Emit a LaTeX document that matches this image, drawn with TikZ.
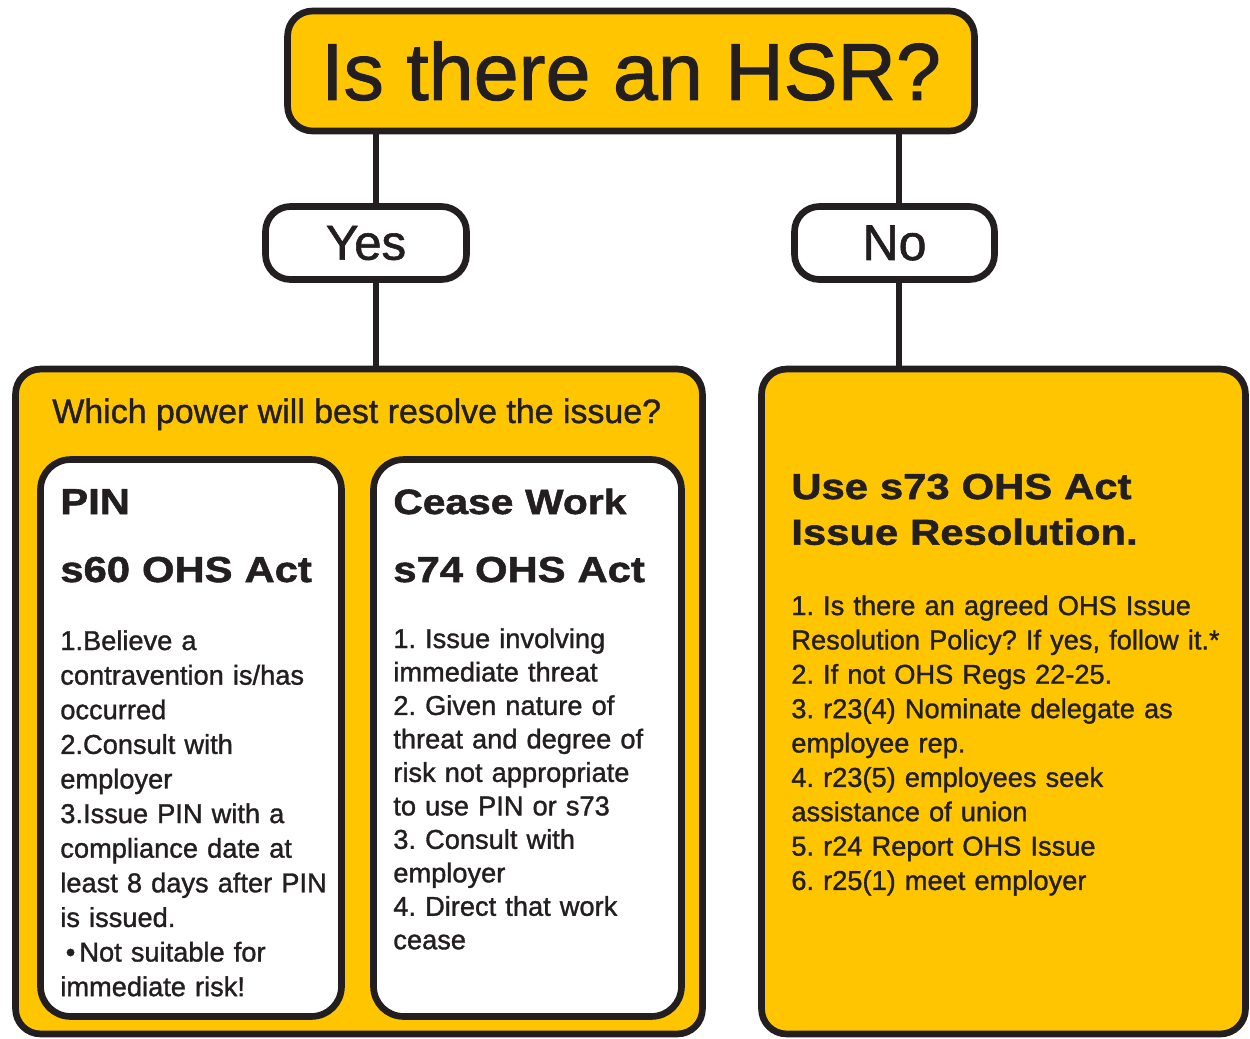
\documentclass[tikz,border=0pt]{standalone}
\usepackage{fontspec}
\setmainfont{Liberation Sans}
\newfontfamily\bodyfont{Liberation Sans}[FakeBold=1.2]
\newfontfamily\headfont{Liberation Sans Bold}[FakeStretch=1.16, FakeBold=1.5]
\usepackage{tikz}
\usetikzlibrary{positioning, calc}
\definecolor{hsryellow}{RGB}{255,198,0}
\definecolor{hsrblack}{RGB}{35,31,32}
\frenchspacing

\begin{document}
\begin{tikzpicture}[x=0.02cm, y=-0.02cm,
			box/.style={draw=hsrblack, line width=3.8pt, rounded corners=0.5cm, inner sep=0pt},
			yellowbox/.style={box, fill=hsryellow},
			whitebox/.style={box, fill=white},
			head/.style={font={\headfont\fontsize{20.5}{26}\selectfont}, text=hsrblack, anchor=base west, inner sep=0pt, text width=9cm, align=left},
			body/.style={font={\bodyfont\fontsize{15.5}{19.7}\selectfont}, text=hsrblack, anchor=base west, inner sep=0pt, text width=9cm, align=left},
			link/.style={draw=hsrblack, line width=3.8pt}]
			\useasboundingbox (0,0) rectangle (1250,1038);
			% the two big panels
			\node[yellowbox, minimum width=13.74cm, minimum height=13.3cm] (which) at (359,701.5) {};
			\node[yellowbox, minimum width=9.68cm, minimum height=13.3cm] (use73) at (1003.5,701.5) {};
			% question and answers
			\node[yellowbox, minimum width=13.74cm, minimum height=2.4cm, font={\bodyfont\fontsize{46}{50}\selectfont}, text=hsrblack] (hsr) at (631,71) {Is there an HSR?};
			\node[whitebox, minimum width=4.02cm, minimum height=1.46cm, font={\bodyfont\fontsize{28}{32}\selectfont}, text=hsrblack] (yes) at (366,243) {Yes};
			\node[whitebox, minimum width=4.0cm, minimum height=1.46cm, font={\bodyfont\fontsize{28.5}{32}\selectfont}, text=hsrblack] (no) at (894.5,243) {No};
			% connecting lines
			\coordinate (yesline) at (376,0);
			\coordinate (noline) at (899,0);
			\draw[link] (hsr.south -| yesline) -- (yes.north -| yesline);
			\draw[link] (yes.south -| yesline) -- (which.north -| yesline);
			\draw[link] (hsr.south -| noline) -- (no.north -| noline);
			\draw[link] (no.south -| noline) -- (use73.north -| noline);
			% left panel
			\node[text=hsrblack, font={\bodyfont\fontsize{19.3}{23}\selectfont}, anchor=base west, inner sep=0pt] (whichq) at (52,423) {Which power will best resolve the issue?};
			\node[whitebox, minimum width=6.02cm, minimum height=11.14cm, rounded corners=0.6cm] (pin) at (191,738) {};
			\node[whitebox, minimum width=6.16cm, minimum height=11.14cm, rounded corners=0.6cm] (cease) at (527.5,738) {};
			% PIN
			\node[head] (pinhead) at (60,514) {PIN};
			\node[head] (pinact) at (60,582) {s60 OHS Act};
			\node[body] (pinlist) at (60,650) {1.Believe a\\
				contravention is/has\\
				occurred\\
				2.Consult with\\
				employer\\
				3.Issue PIN with a\\
				compliance date at\\
				least 8 days after PIN\\
				is issued.\\
				\hspace{0.2em}\textbullet\hspace{0.15em}Not suitable for\\
				immediate risk!};
			% Cease Work
			\node[head, font={\headfont\fontsize{20}{26}\selectfont}] (ceasehead) at (393,514) {Cease Work};
			\node[head] (ceaseact) at (393,582) {s74 OHS Act};
			\node[body, font={\bodyfont\fontsize{15.5}{19.05}\selectfont}] (ceaselist) at (393,648) {1. Issue involving\\
				immediate threat\\
				2. Given nature of\\
				threat and degree of\\
				risk not appropriate\\
				to use PIN or s73\\
				3. Consult with\\
				employer\\
				4. Direct that work\\
				cease};
			% right panel
			\node[head] (use73head) at (791,499) {Use s73 OHS Act\\Issue Resolution.};
			\node[body, font={\bodyfont\fontsize{15.5}{19.56}\selectfont}] (use73list) at (791,615) {1. Is there an agreed OHS Issue\\
				Resolution Policy? If yes, follow it.*\\
				2. If not OHS Regs 22-25.\\
				3. r23(4) Nominate delegate as\\
				employee rep.\\
				4. r23(5) employees seek\\
				assistance of union\\
				5. r24 Report OHS Issue\\
				6. r25(1) meet employer};
\end{tikzpicture}
\end{document}
